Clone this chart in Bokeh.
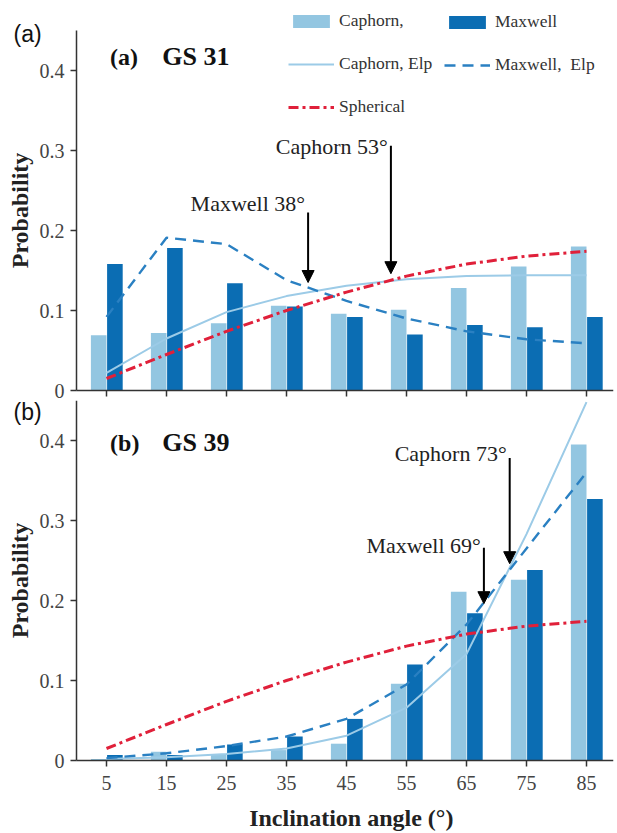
from bokeh.plotting import figure
from bokeh.layouts import column
from bokeh.models import (ColumnDataSource, FixedTicker, Legend, LegendItem,
                          Label, LabelSet, Arrow, NormalHead, Range1d,
                          LinearAxis)
from bokeh.core.properties import value
from bokeh.transform import dodge
from bokeh.embed import file_html
from bokeh.resources import INLINE

# ---------------- data ----------------
angles = [5, 15, 25, 35, 45, 55, 65, 75, 85]

gs31_caphorn = [0.069, 0.072, 0.084, 0.106, 0.096, 0.101, 0.128, 0.155, 0.180]
gs31_maxwell = [0.158, 0.178, 0.134, 0.105, 0.092, 0.070, 0.082, 0.079, 0.092]
gs31_caphorn_elp = [0.022, 0.065, 0.098, 0.118, 0.131, 0.139, 0.143, 0.144, 0.144]
gs31_maxwell_elp = [0.092, 0.191, 0.183, 0.138, 0.112, 0.090, 0.074, 0.064, 0.059]

gs39_caphorn = [0.002, 0.011, 0.008, 0.013, 0.021, 0.096, 0.211, 0.226, 0.395]
gs39_maxwell = [0.007, 0.007, 0.020, 0.030, 0.052, 0.120, 0.184, 0.238, 0.327]
gs39_caphorn_elp = [0.002, 0.004, 0.008, 0.015, 0.031, 0.066, 0.133, 0.283, 0.448]
gs39_maxwell_elp = [0.003, 0.009, 0.018, 0.030, 0.052, 0.095, 0.170, 0.265, 0.360]

spherical = [0.015, 0.045, 0.074, 0.100, 0.123, 0.143, 0.158, 0.168, 0.174]

# annotations (arrow x, arrow start/end y, text and its baseline)
gs31_arrow_x = [38.6, 52.4]
gs31_arrow_y0 = [0.2225, 0.306]
gs31_arrow_y1 = [0.135, 0.146]
gs31_text = ["Maxwell 38°", "Caphorn 53°"]
gs31_text_y = [0.225, 0.296]

gs39_arrow_x = [67.9, 72.2]
gs39_arrow_y0 = [0.266, 0.378]
gs39_arrow_y1 = [0.196, 0.246]
gs39_text = ["Maxwell 69°", "Caphorn 73°"]
gs39_text_y = [0.259, 0.375]

y_ticks = [0, 0.1, 0.2, 0.3, 0.4]
y_tick_labels = ["0", "0.1", "0.2", "0.3", "0.4"]
x_axis_extent = (0, 89.5)
y_axis_extent = (0, 0.45)
x_title = "Inclination angle (°)"
y_title = "Probability"

# ---------------- style ----------------
C_LIGHT = "#93C6E1"
C_DARK = "#0B6DB3"
C_LLINE = "#9CCBE7"
C_DASH = "#2A80C2"
C_RED = "#E0203A"
SERIF = "Liberation Serif"
AX_COLOR = "#333333"
PX_PER_DEG = 6.0
PX_PER_UNIT = 800.0
AXIS_X_PX = 76


def make_panel(caph, maxw, caph_elp, maxw_elp, ax, ay0, ay1, txt, ty,
               panel_tag, title, tag_y, title_y, frame_h, below_px,
               show_xlabels):
    frame_w = 613
    x0 = -AXIS_X_PX / PX_PER_DEG
    x1 = x0 + frame_w / PX_PER_DEG
    y0 = -below_px / PX_PER_UNIT
    y1 = y0 + frame_h / PX_PER_UNIT
    p = figure(frame_width=frame_w, frame_height=frame_h,
               x_range=Range1d(x0, x1), y_range=Range1d(y0, y1),
               min_border_left=0, min_border_right=4,
               min_border_top=0, min_border_bottom=0,
               x_axis_location=None, y_axis_location=None,
               output_backend="svg", toolbar_location=None)
    p.outline_line_color = None
    p.grid.visible = False

    src = ColumnDataSource(dict(angle=angles, caph=caph, maxw=maxw,
                                caph_elp=caph_elp, maxw_elp=maxw_elp,
                                sph=spherical))

    r_cb = p.vbar(x=dodge("angle", -1.3), top="caph", width=2.6, source=src,
                  fill_color=C_LIGHT, line_color=None)
    r_mb = p.vbar(x=dodge("angle", 1.4), top="maxw", width=2.6, source=src,
                  fill_color=C_DARK, line_color=None)
    r_cl = p.line(x="angle", y="caph_elp", source=src, line_color=C_LLINE,
                  line_width=2)
    r_ml = p.line(x="angle", y="maxw_elp", source=src, line_color=C_DASH,
                  line_width=2.4, line_dash="11 7")
    r_sp = p.line(x="angle", y="sph", source=src, line_color=C_RED,
                  line_width=3, line_dash="10 4 3 4")

    asrc = ColumnDataSource(dict(x=ax, y0=ay0, y1=ay1, t=txt, ty=ty))
    p.add_layout(Arrow(end=NormalHead(size=12, fill_color="black",
                                      line_color="black", line_width=1),
                       x_start="x", y_start="y0", x_end="x", y_end="y1",
                       line_color="black", line_width=2, source=asrc))
    p.add_layout(LabelSet(x="x", y="ty", text="t", source=asrc,
                          x_offset=-3, text_align="right",
                          text_baseline="alphabetic",
                          text_font=value(SERIF),
                          text_font_size="22px", text_color="#222222"))

    p.add_layout(Label(x=-10.5, y=tag_y, text=panel_tag,
                       text_font="Liberation Sans", text_font_size="23px",
                       text_baseline="middle", text_color="#111111"))
    p.add_layout(Label(x=5.6, y=title_y, text=title.split(" ", 1)[0],
                       text_font=SERIF, text_font_style="bold",
                       text_font_size="24px", text_baseline="middle",
                       text_color="#111111"))
    p.add_layout(Label(x=14.3, y=title_y, text=title.split(" ", 1)[1],
                       text_font=SERIF, text_font_style="bold",
                       text_font_size="26px", text_baseline="middle",
                       text_color="#111111"))

    yaxis = LinearAxis(fixed_location=0)
    p.add_layout(yaxis, "left")
    xaxis = LinearAxis(fixed_location=0)
    p.add_layout(xaxis, "below")

    for axis in (xaxis, yaxis):
        axis.axis_line_color = AX_COLOR
        axis.axis_line_width = 1.5
        axis.major_tick_line_color = AX_COLOR
        axis.major_tick_line_width = 1.5
        axis.major_tick_in = 0
        axis.minor_tick_line_color = None
        axis.major_label_text_font = SERIF
        axis.major_label_text_color = "#444444"
        axis.major_label_text_font_size = "20px"
        axis.axis_label_text_font = SERIF
        axis.axis_label_text_font_style = "bold"
        axis.axis_label_text_color = "#222222"

    yaxis.bounds = y_axis_extent
    yaxis.ticker = FixedTicker(ticks=y_ticks)
    yaxis.major_label_overrides = dict(zip(y_ticks, y_tick_labels))
    yaxis.major_tick_out = 6
    yaxis.major_label_standoff = 6
    yaxis.axis_label = y_title
    yaxis.axis_label_text_font_size = "24px"
    yaxis.axis_label_standoff = 4

    xaxis.bounds = x_axis_extent
    xaxis.ticker = FixedTicker(ticks=angles)
    xaxis.major_tick_out = 6
    if show_xlabels:
        xaxis.major_label_standoff = 9
        p.add_layout(Label(x=45.8, y=-0.0715, text=x_title,
                           text_font=SERIF, text_font_style="bold",
                           text_font_size="24px", text_align="center",
                           text_baseline="middle", text_color="#222222"))
    else:
        xaxis.major_label_overrides = {a: "" for a in angles}
        xaxis.major_label_text_font_size = "2px"
        xaxis.major_label_standoff = 0

    return p, (r_cb, r_mb, r_cl, r_ml, r_sp)


# top panel: canvas y 0..400, axis at 390
p1, rs = make_panel(gs31_caphorn, gs31_maxwell, gs31_caphorn_elp,
                    gs31_maxwell_elp, gs31_arrow_x, gs31_arrow_y0,
                    gs31_arrow_y1, gs31_text, gs31_text_y,
                    "(a)", "(a) GS 31", 0.4456, 0.4175, 400, 10, False)
# bottom panel: canvas y 400..833, axis at 760
p2, _ = make_panel(gs39_caphorn, gs39_maxwell, gs39_caphorn_elp,
                   gs39_maxwell_elp, gs39_arrow_x, gs39_arrow_y0,
                   gs39_arrow_y1, gs39_text, gs39_text_y,
                   "(b)", "(b) GS 39", 0.4356, 0.3975, 433, 73, True)

r_cb, r_mb, r_cl, r_ml, r_sp = rs


def style_legend(leg):
    leg.padding = 0
    leg.margin = 0
    leg.spacing = 22
    leg.glyph_width = 46
    leg.glyph_height = 16
    leg.label_height = 20
    leg.label_standoff = 5
    leg.label_text_font = SERIF
    leg.label_text_font_size = "17.5px"
    leg.label_text_color = "#333333"
    leg.border_line_color = None
    leg.background_fill_alpha = 0


leg1 = Legend(items=[LegendItem(label="Caphorn,", renderers=[r_cb]),
                     LegendItem(label="Caphorn, Elp", renderers=[r_cl]),
                     LegendItem(label="Spherical", renderers=[r_sp])],
              location=(288, 283))
leg2 = Legend(items=[LegendItem(label="Maxwell", renderers=[r_mb]),
                     LegendItem(label="Maxwell,  Elp", renderers=[r_ml])],
              location=(444, 325))
style_legend(leg1)
style_legend(leg2)
p1.add_layout(leg1)
p1.add_layout(leg2)

layout = column(p1, p2, spacing=0)
open("out.html", "w").write(file_html(layout, INLINE))
